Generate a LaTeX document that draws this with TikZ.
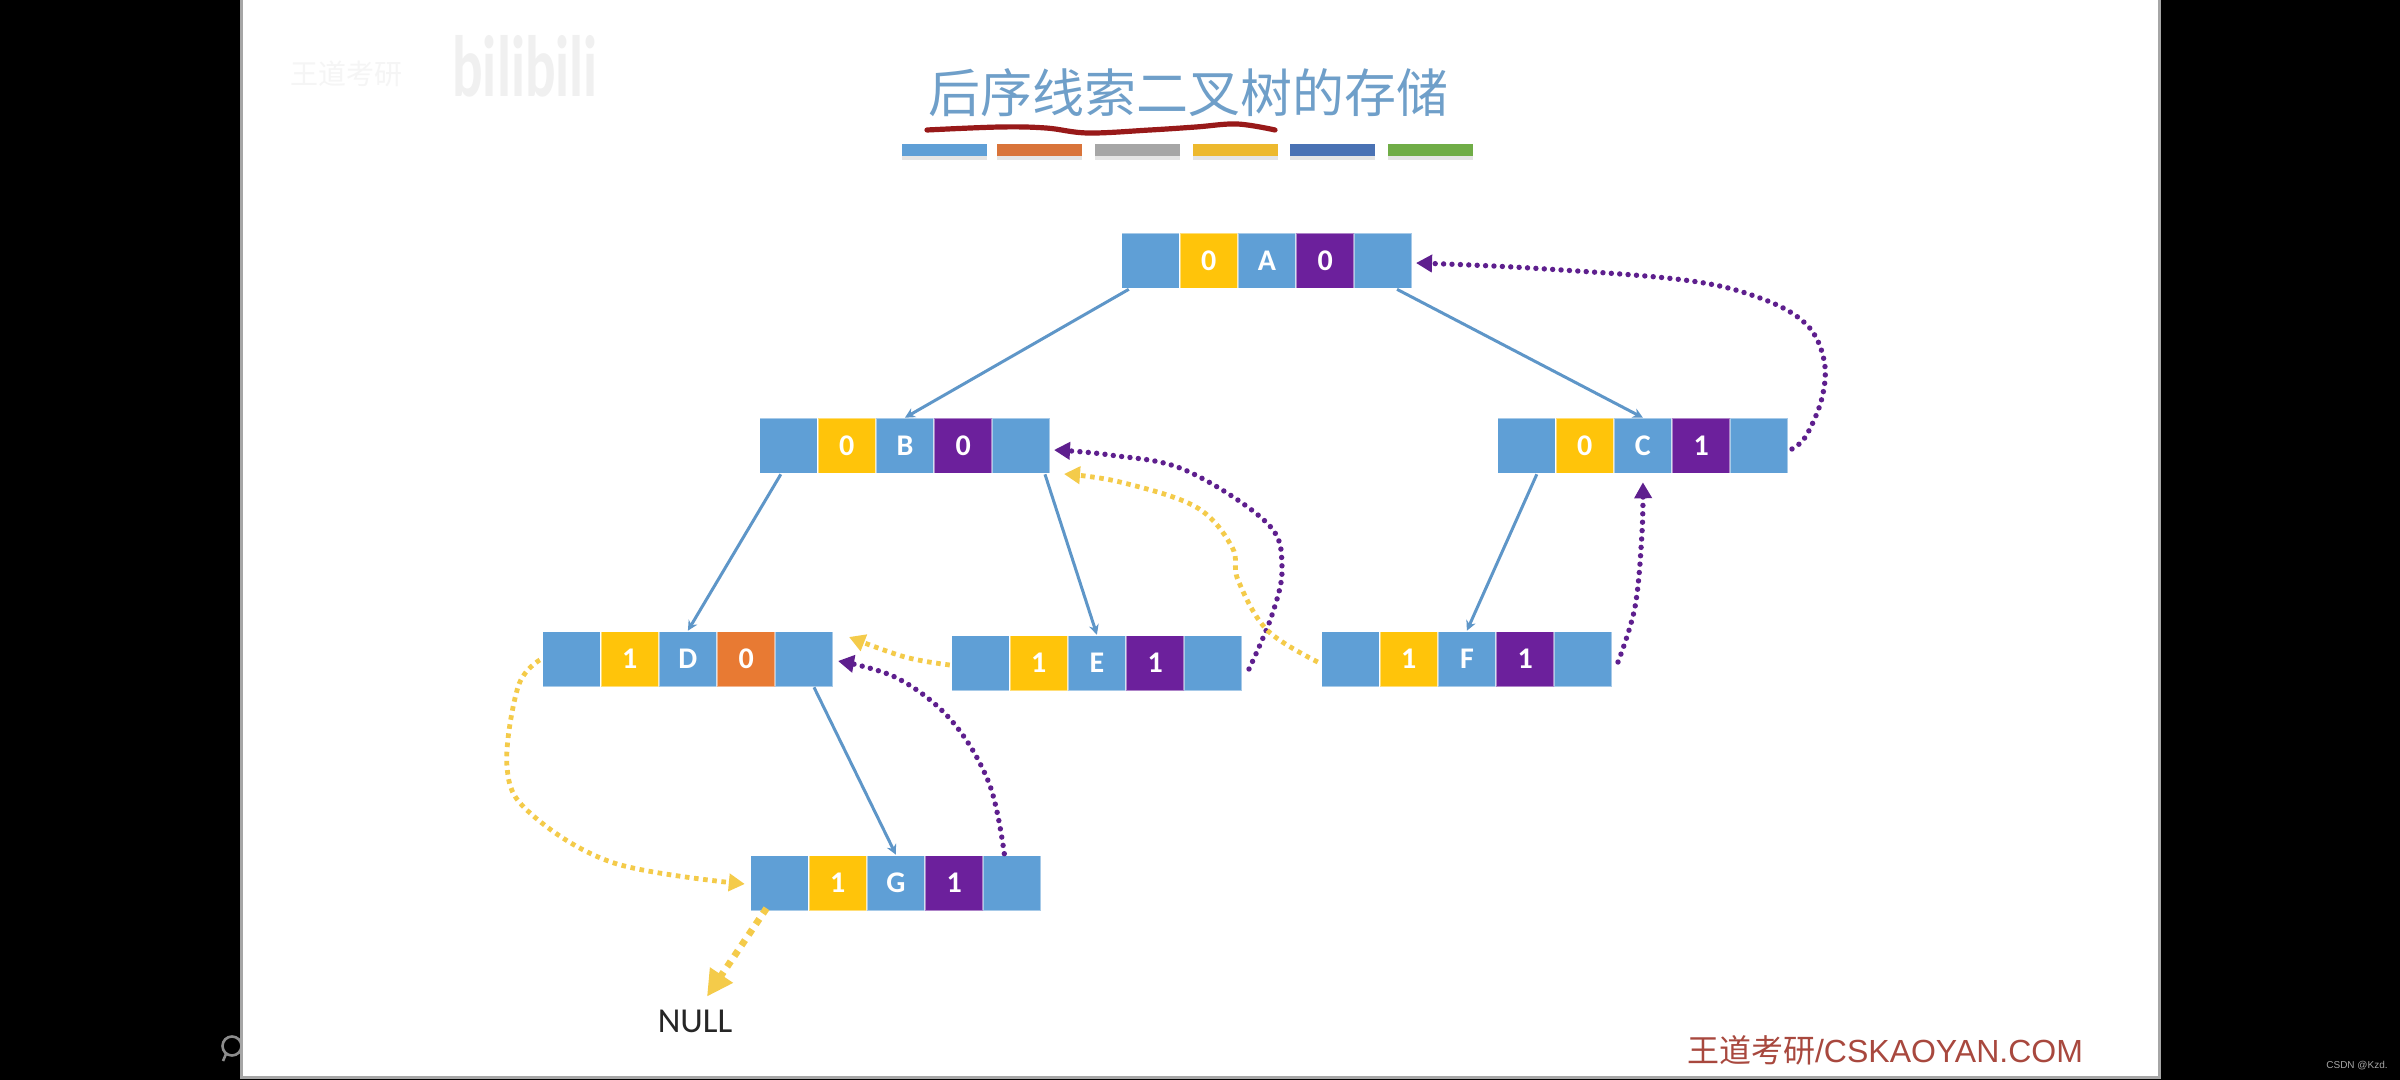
\documentclass[tikz,border=0pt]{standalone}
\usepackage{fontspec}
\setmainfont{Carlito}
\newfontfamily\cjkfont{Noto Sans CJK SC}
\newfontfamily\footfont{Liberation Sans}
\usetikzlibrary{arrows.meta,calc}
\definecolor{cellblue}{HTML}{5F9FD6}
\definecolor{cellyellow}{HTML}{FFC40A}
\definecolor{cellpurple}{HTML}{6C209C}
\definecolor{cellorange}{HTML}{E87A33}
\definecolor{treeblue}{HTML}{5E96C8}
\definecolor{threadpurple}{HTML}{5E1F8E}
\definecolor{threadyellow}{HTML}{F4CB4A}
\definecolor{titleblue}{HTML}{6F9FC9}
\definecolor{footred}{HTML}{A8483E}
\definecolor{barorange}{HTML}{D9743A}
\definecolor{bargrey}{HTML}{A6A6A6}
\definecolor{baryellow}{HTML}{EDB92E}
\definecolor{barblue}{HTML}{4A72B4}
\definecolor{bargreen}{HTML}{70AD47}
\tikzset{
  cell/.style={draw=white,draw opacity=.45,line width=.8pt,minimum width=28.9pt,minimum height=27.5pt,
    inner sep=0pt,text=white,font=\bfseries\fontsize{15}{16}\selectfont},
  treeline/.style={draw=treeblue,line width=1.5pt,-{Stealth[length=5pt,width=5pt]}},
  purplethread/.style={draw=threadpurple,line width=2.7pt,line cap=round,dash pattern=on 0pt off 4.2pt,
    -{Triangle[length=8pt,width=8.5pt,fill=threadpurple]}},
  yellowthread/.style={draw=threadyellow,line width=2.4pt,dash pattern=on 2.3pt off 2.3pt,
    -{Triangle[length=8pt,width=8.5pt,fill=threadyellow]}},
  nullthread/.style={draw=threadyellow,line width=3.4pt,dash pattern=on 3.2pt off 3.2pt,
    -{Triangle[length=13pt,width=13pt,fill=threadyellow]}},
  slidebar/.style={minimum width=42.5pt,minimum height=6pt,inner sep=0pt,draw=none},
}
% One record of the threaded tree: #1 name, #2 left x, #3 top y, #4 ltag, #5 data, #6 rtag, #7 rtag colour
\newcommand{\threadrecord}[7]{
  \node[cell,fill=cellblue] (#11) at (#2+28.5,#3+27) {};
  \node[cell,fill=cellyellow] (#12) at (#2+86.7,#3+27) {#4};
  \node[cell,fill=cellblue] (#13) at (#2+144.9,#3+27) {#5};
  \node[cell,fill=#7] (#14) at (#2+203.1,#3+27) {#6};
  \node[cell,fill=cellblue] (#15) at (#2+261.3,#3+27) {};
}
\begin{document}
\begin{tikzpicture}[x=.5pt,y=-.5pt]
\useasboundingbox (0,0) rectangle (2400,1080);
\fill[black] (0,0) rectangle (2400,1080);
% presenter icon at the edge of the slide
\draw[black!45,line width=1.3pt] (232,1046) circle (9.5);
\draw[black!45,line width=1.3pt] (226,1054) -- (223,1061);
\fill[white] (241,0) rectangle (2159,1077);
\draw[black!35,line width=1.5pt] (241,0) -- (241,1077) -- (2159,1077) -- (2159,0);

% faint logo in the slide corner
\node[text=black!4,font=\cjkfont\fontsize{14}{14}\selectfont,anchor=west] (logoa) at (283,74) {王道考研};
\node[text=black!6,font=\bfseries\fontsize{30}{30}\selectfont,anchor=west,xscale=.95,yscale=1.45,inner sep=0pt] (logob) at (452,66) {bilibili};

% title
\node[text=titleblue,font=\cjkfont\fontsize{26}{26}\selectfont] (title) at (1188,93) {后序线索二叉树的存储};
\draw[draw=red!55!black!90,line width=2.6pt,line cap=round,line join=round]
  plot[smooth,tension=.6] coordinates {(927,130) (1000,127) (1046,128) (1088,133) (1150,130) (1196,127) (1237,124) (1275,130)};

% coloured bars under the title
\foreach \n/\x/\c in {a/944.5/cellblue,b/1039/barorange,c/1137.5/bargrey,d/1235.5/baryellow,e/1332/barblue,f/1430.5/bargreen}{
  \fill[black!10] (\x-42.5,155) rectangle (\x+42.5,160);
  \node[slidebar,fill=\c] (bar\n) at (\x,150) {};
}

% records
\threadrecord{A}{1122}{234}{0}{A}{0}{cellpurple}
\threadrecord{B}{760}{419}{0}{B}{0}{cellpurple}
\threadrecord{C}{1498}{419}{0}{C}{1}{cellpurple}
\threadrecord{D}{543}{632}{1}{D}{0}{cellorange}
\threadrecord{E}{952}{636}{1}{E}{1}{cellpurple}
\threadrecord{F}{1322}{632}{1}{F}{1}{cellpurple}
\threadrecord{G}{751}{856}{1}{G}{1}{cellpurple}
\node[text=black!85,font=\fontsize{17.5}{17}\selectfont] (null) at (695,1021) {NULL};

% tree links
\draw[treeline] ([xshift=4pt]A1.south west) -- (B3.north);
\draw[treeline] ([xshift=-8pt]A5.south east) -- (C3.north);
\draw[treeline] ([xshift=11pt]B1.south west) -- (D3.north);
\draw[treeline] ([xshift=-3pt]B5.south east) -- (E3.north);
\draw[treeline] ([xshift=20pt]C1.south west) -- (F3.north);
\draw[treeline] ([xshift=-10pt]D5.south east) -- (G3.north);

% thread end points
\coordinate (cs) at ($(C5.east)+(3,3)$);
\coordinate (at) at ($(A5.east)+(3,2)$);
\coordinate (es) at ($(E5.east)+(6,6)$);
\coordinate (bt) at ($(B5.east)+(3,4)$);
\coordinate (fs) at ($(F5.east)+(5,3)$);
\coordinate (ct) at ($(C3.south)+(0,8)$);
\coordinate (gs) at ($(G5.north)+(-8,-1)$);
\coordinate (dt) at ($(D5.east)+(4,2)$);
\coordinate (ey) at ($(E1.west)+(-1,2)$);
\coordinate (dy) at ($(D5.east)+(15,-22)$);
\coordinate (fy) at ($(F1.west)+(-3,3)$);
\coordinate (by) at ($(B5.east)+(13,28)$);
\coordinate (ds) at ($(D1.west)+(-2,1)$);
\coordinate (gy) at ($(G1.west)+(-5,1)$);
\coordinate (gn) at ($(G1.south)+(-13,-3)$);
\coordinate (nt) at ($(null.north)+(12,-6)$);

% purple threads
\draw[purplethread] plot[smooth,tension=.6] coordinates {(cs) (1806,436) (1822,398) (1824,360) (1806,324) (1760,298) (1684,280) (1530,268) (at)};
\draw[purplethread] plot[smooth,tension=.6] coordinates {(es) (1272,615) (1282,567) (1267,523) (1185,470) (1110,455) (bt)};
\draw[purplethread] plot[smooth,tension=.6] coordinates {(fs) (1635,607) (1642,533) (ct)};
\draw[purplethread] plot[smooth,tension=.6] coordinates {(gs) (989,783) (951,720) (897,678) (dt)};

% yellow threads
\draw[yellowthread] plot[smooth,tension=.6] coordinates {(ey) (905,657) (dy)};
\draw[yellowthread] plot[smooth,tension=.6] coordinates {(fy) (1267,630) (1238,580) (1232,547) (1196,507) (1120,482) (by)};
\draw[yellowthread] plot[smooth,tension=.6] coordinates {(ds) (518,687) (507,767) (530,813) (614,863) (gy)};
\draw[nullthread] (gn) -- (nt);

% footer and corner credit
\node[text=footred,font=\fontsize{16}{16}\selectfont,inner sep=0pt] (foot) at (1885,1050) {{\cjkfont 王道考研}{\footfont /CSKAOYAN.COM}};
\node[text=black!35,font=\footfont\fontsize{5}{6}\selectfont,inner sep=0pt] (csdn) at (2357,1066) {CSDN @Kzd.};
\end{tikzpicture}
\end{document}
